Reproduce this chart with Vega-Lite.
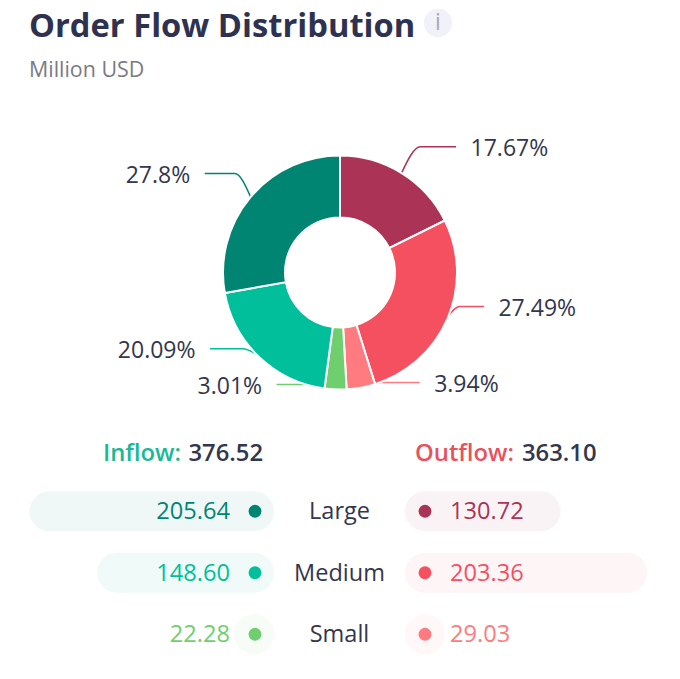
{
  "$schema": "https://vega.github.io/schema/vega-lite/v6.json",
  "description": "Order flow distribution donut with inflow and outflow breakdown by order size.",
  "padding": 0,
  "background": "white",
  "spacing": 0,
  "config": {
    "view": {"stroke": null},
    "font": "Open Sans",
    "concat": {"spacing": 0}
  },
  "title": {
    "text": "Order Flow Distribution",
    "subtitle": "Million USD",
    "anchor": "start",
    "frame": "group",
    "dx": 29,
    "offset": -81,
    "font": "Open Sans",
    "fontSize": 32.7,
    "fontWeight": 700,
    "color": "#2E3250",
    "subtitleFont": "Open Sans",
    "subtitleFontSize": 21.4,
    "subtitleColor": "#7A7A85",
    "subtitlePadding": 16
  },
  "datasets": {
    "flows": [
      {"rank": 1, "flow": "Outflow", "size": "Large", "value": 130.72, "share": 17.67},
      {"rank": 2, "flow": "Outflow", "size": "Medium", "value": 203.36, "share": 27.49},
      {"rank": 3, "flow": "Outflow", "size": "Small", "value": 29.03, "share": 3.94},
      {"rank": 4, "flow": "Inflow", "size": "Small", "value": 22.28, "share": 3.01},
      {"rank": 5, "flow": "Inflow", "size": "Medium", "value": 148.60, "share": 20.09},
      {"rank": 6, "flow": "Inflow", "size": "Large", "value": 205.64, "share": 27.8}
    ],
    "totals": [
      {"flow": "Inflow", "total": 376.52},
      {"flow": "Outflow", "total": 363.10}
    ]
  },
  "resolve": {"scale": {"color": "independent"}},
  "vconcat": [
    {
      "width": 680,
      "height": 125.5,
      "data": {"values": [{"icon": "i"}]},
      "encoding": {
        "x": {"datum": 438, "type": "quantitative", "scale": {"domain": [0, 680], "nice": false}, "axis": null},
        "y": {"datum": 23, "type": "quantitative", "scale": {"domain": [125.5, 0], "nice": false}, "axis": null}
      },
      "layer": [
        {"mark": {"type": "point", "filled": true, "size": 800, "color": "#F1F1F9", "opacity": 1}},
        {"mark": {"type": "text", "fontSize": 23, "color": "#A8A8B8", "baseline": "middle"}, "encoding": {"text": {"field": "icon"}}}
      ]
    },
    {
      "width": 680,
      "height": 293,
      "data": {"name": "flows"},
      "transform": [
        {"window": [{"op": "sum", "field": "share", "as": "cum"}], "sort": [{"field": "rank"}]},
        {"calculate": "(datum.cum - datum.share / 2) / 100 * 2 * PI", "as": "mid"},
        {"calculate": "116 * sin(datum.mid)", "as": "sx"},
        {"calculate": "116 * cos(datum.mid)", "as": "sy"},
        {"calculate": "128.5 * cos(datum.mid) + 16.5", "as": "ey"},
        {"calculate": "sin(datum.mid) > 0 ? 1 : -1", "as": "dir"},
        {"calculate": "datum.dir * (116 * abs(sin(datum.mid)) + 59 - 28 * pow(abs(sin(datum.mid)), 3))", "as": "ex"},
        {"calculate": "datum.ex + datum.dir * 14.5", "as": "tx"},
        {"calculate": "datum.share + '%'", "as": "label"},
        {"calculate": "datum.flow + ' ' + datum.size", "as": "segment"}
      ],
      "encoding": {
        "color": {
          "field": "segment",
          "type": "nominal",
          "legend": null,
          "scale": {
            "domain": ["Outflow Large", "Outflow Medium", "Outflow Small", "Inflow Small", "Inflow Medium", "Inflow Large"],
            "range": ["#AB3355", "#F5505F", "#FF7B80", "#6FCF6F", "#00BF9A", "#008573"]
          }
        }
      },
      "layer": [
        {
          "transform": [
            {"calculate": "[datum.sx, datum.sx + 0.35 * (datum.ex - datum.sx), datum.ex]", "as": "lx"},
            {"calculate": "[datum.sy, datum.ey, datum.ey]", "as": "ly"},
            {"flatten": ["lx", "ly"]}
          ],
          "mark": {"type": "line", "interpolate": "monotone", "strokeWidth": 1.5},
          "encoding": {
            "x": {"field": "lx", "type": "quantitative", "scale": {"domain": [-340, 340], "nice": false, "zero": false}, "axis": null},
            "y": {"field": "ly", "type": "quantitative", "scale": {"domain": [-146.5, 146.5], "nice": false, "zero": false}, "axis": null},
            "detail": {"field": "segment"}
          }
        },
        {
          "mark": {"type": "arc", "outerRadius": 117, "innerRadius": 55, "stroke": "white", "strokeWidth": 2},
          "encoding": {
            "theta": {"field": "share", "type": "quantitative", "stack": true, "scale": {"domain": [0, 100]}},
            "order": {"field": "rank"}
          }
        },
        {
          "transform": [{"filter": "datum.dir > 0"}],
          "mark": {"type": "text", "align": "left", "baseline": "middle", "dy": 2.5, "fontSize": 23},
          "encoding": {
            "x": {"field": "tx", "type": "quantitative"},
            "y": {"field": "ey", "type": "quantitative"},
            "text": {"field": "label"},
            "color": {"value": "#33364D"}
          }
        },
        {
          "transform": [{"filter": "datum.dir < 0"}],
          "mark": {"type": "text", "align": "right", "baseline": "middle", "dy": 2.5, "fontSize": 23},
          "encoding": {
            "x": {"field": "tx", "type": "quantitative"},
            "y": {"field": "ey", "type": "quantitative"},
            "text": {"field": "label"},
            "color": {"value": "#33364D"}
          }
        }
      ]
    },
    {
      "resolve": {"scale": {"color": "independent"}},
      "hconcat": [
        {
          "width": 274,
          "height": 246,
          "encoding": {
            "y": {"field": "size", "type": "ordinal", "axis": null, "scale": {"domain": ["Total", "Large", "Medium", "Small"], "paddingInner": 0, "paddingOuter": 0}},
            "color": {"field": "size", "type": "nominal", "legend": null, "scale": {"domain": ["Large", "Medium", "Small"], "range": ["#008573", "#00BF9A", "#6FCF6F"]}}
          },
          "layer": [
            {
              "data": {"name": "flows"},
              "transform": [
                {"filter": "datum.flow == 'Inflow'"},
                {"calculate": "max(datum.value, 33.6)", "as": "pill"}
              ],
              "mark": {"type": "bar", "height": 40, "cornerRadius": 20, "opacity": 0.06},
              "encoding": {
                "x": {"field": "pill", "type": "quantitative", "axis": null, "scale": {"domain": [230.25, 0], "nice": false}},
                "x2": {"datum": 0}
              }
            },
            {
              "data": {"name": "flows"},
              "transform": [{"filter": "datum.flow == 'Inflow'"}],
              "mark": {"type": "point", "filled": true, "size": 165, "opacity": 1, "xOffset": -19},
              "encoding": {"x": {"datum": 0, "type": "quantitative"}}
            },
            {
              "data": {"name": "flows"},
              "transform": [{"filter": "datum.flow == 'Inflow'"}],
              "mark": {"type": "text", "align": "right", "baseline": "middle", "fontSize": 23.6, "xOffset": -44, "yOffset": 1},
              "encoding": {"x": {"datum": 0, "type": "quantitative"}, "text": {"field": "value", "format": ".2f"}}
            },
            {
              "data": {"name": "totals"},
              "transform": [{"filter": "datum.flow == 'Inflow'"}, {"calculate": "datum.flow + ':'", "as": "name"}],
              "mark": {"type": "text", "align": "right", "baseline": "middle", "fontSize": 23.8, "fontWeight": 600, "xOffset": -93, "yOffset": 4.5},
              "encoding": {"x": {"datum": 0, "type": "quantitative"}, "y": {"datum": "Total", "type": "ordinal"}, "text": {"field": "name"}, "color": {"value": "#19B896"}}
            },
            {
              "data": {"name": "totals"},
              "transform": [{"filter": "datum.flow == 'Inflow'"}],
              "mark": {"type": "text", "align": "right", "baseline": "middle", "fontSize": 23.8, "fontWeight": 600, "xOffset": -11, "yOffset": 4.5},
              "encoding": {"x": {"datum": 0, "type": "quantitative"}, "y": {"datum": "Total", "type": "ordinal"}, "text": {"field": "total", "format": ".2f"}, "color": {"value": "#33364D"}}
            }
          ]
        },
        {
          "width": 131,
          "height": 246,
          "data": {"name": "flows"},
          "transform": [{"filter": "datum.flow == 'Inflow'"}],
          "mark": {"type": "text", "align": "center", "baseline": "middle", "fontSize": 23.5, "color": "#33364D", "yOffset": 1},
          "encoding": {
            "y": {"field": "size", "type": "ordinal", "axis": null, "scale": {"domain": ["Total", "Large", "Medium", "Small"], "paddingInner": 0, "paddingOuter": 0}},
            "text": {"field": "size"}
          }
        },
        {
          "width": 275,
          "height": 246,
          "encoding": {
            "y": {"field": "size", "type": "ordinal", "axis": null, "scale": {"domain": ["Total", "Large", "Medium", "Small"], "paddingInner": 0, "paddingOuter": 0}},
            "color": {"field": "size", "type": "nominal", "legend": null, "scale": {"domain": ["Large", "Medium", "Small"], "range": ["#AB3355", "#F5505F", "#FF7B80"]}}
          },
          "layer": [
            {
              "data": {"name": "flows"},
              "transform": [
                {"filter": "datum.flow == 'Outflow'"},
                {"calculate": "max(datum.value, 33.6)", "as": "pill"}
              ],
              "mark": {"type": "bar", "height": 40, "cornerRadius": 20, "opacity": 0.06},
              "encoding": {
                "x": {"field": "pill", "type": "quantitative", "axis": null, "scale": {"domain": [0, 231.1], "nice": false}},
                "x2": {"datum": 0}
              }
            },
            {
              "data": {"name": "flows"},
              "transform": [{"filter": "datum.flow == 'Outflow'"}],
              "mark": {"type": "point", "filled": true, "size": 165, "opacity": 1, "xOffset": 20},
              "encoding": {"x": {"datum": 0, "type": "quantitative"}}
            },
            {
              "data": {"name": "flows"},
              "transform": [{"filter": "datum.flow == 'Outflow'"}],
              "mark": {"type": "text", "align": "left", "baseline": "middle", "fontSize": 23.6, "xOffset": 45, "yOffset": 1},
              "encoding": {"x": {"datum": 0, "type": "quantitative"}, "text": {"field": "value", "format": ".2f"}}
            },
            {
              "data": {"name": "totals"},
              "transform": [{"filter": "datum.flow == 'Outflow'"}, {"calculate": "datum.flow + ':'", "as": "name"}],
              "mark": {"type": "text", "align": "right", "baseline": "middle", "fontSize": 23.8, "fontWeight": 600, "xOffset": 109, "yOffset": 4.5},
              "encoding": {"x": {"datum": 0, "type": "quantitative"}, "y": {"datum": "Total", "type": "ordinal"}, "text": {"field": "name"}, "color": {"value": "#E8525F"}}
            },
            {
              "data": {"name": "totals"},
              "transform": [{"filter": "datum.flow == 'Outflow'"}],
              "mark": {"type": "text", "align": "left", "baseline": "middle", "fontSize": 23.8, "fontWeight": 600, "xOffset": 117, "yOffset": 4.5},
              "encoding": {"x": {"datum": 0, "type": "quantitative"}, "y": {"datum": "Total", "type": "ordinal"}, "text": {"field": "total", "format": ".2f"}, "color": {"value": "#33364D"}}
            }
          ]
        }
      ]
    }
  ]
}
